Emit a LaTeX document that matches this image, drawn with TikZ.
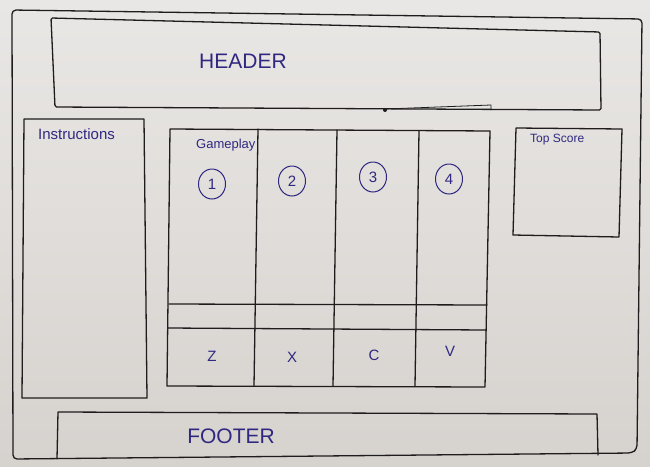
\documentclass[tikz,border=0pt]{standalone}
\usepackage{fontspec}
\usetikzlibrary{shapes.geometric}
\setmainfont{Liberation Sans}
\definecolor{inkblue}{RGB}{48,40,128}
\definecolor{pencil}{RGB}{30,28,28}
\definecolor{papertop}{RGB}{233,231,229}
\definecolor{paperbot}{RGB}{214,210,206}
\begin{document}
\begin{tikzpicture}[x=1pt,y=-1pt,
  pen/.style={draw=pencil, line width=1.3pt, line join=round, line cap=round},
  ink/.style={text=inkblue, inner sep=0pt, font=\fontsize{#1}{#1}\selectfont},
  badge/.style={draw=inkblue, line width=1pt, ellipse, minimum width=27pt, minimum height=30pt,
    inner sep=0pt, text=inkblue, font=\fontsize{15}{15}\selectfont}]
  % sheet of paper
  \shade[top color=papertop, bottom color=paperbot] (0,0) rectangle (650,466);
  \useasboundingbox (0,0) rectangle (650,466);

  % page frame
  \draw[pen, rounded corners=4pt] (13,459) -- (12,10) -- (642,19) -- (637,449) -- (632,453) -- cycle;

  % header bar
  \draw[pen, rounded corners=1.5pt] (51,18) -- (600,32) -- (601,110) -- (55,107) -- cycle;
  \draw[pen, line width=0.8pt] (385,109) -- (491,105) -- (491,110);
  \fill[pencil] (385,110) circle (2pt);
  \node[ink=21] (header) at (243,61) {HEADER};

  % instructions column
  \draw[pen] (24,119) -- (144,119) -- (147,398) -- (22,398) -- cycle;
  \node[ink=15, anchor=west] (instr) at (38,134) {Instructions};

  % gameplay grid
  \draw[pen] (170,129) -- (490,131) -- (485,387) -- (167,386) -- cycle;
  \draw[pen] (258,129) -- (254,386);
  \draw[pen] (337,130) -- (333,386);
  \draw[pen] (419,131) -- (415,386);
  \draw[pen] (169,304) -- (487,305);
  \draw[pen] (168,328) -- (486,330);
  \node[ink=13, anchor=west] (gameplay) at (196,145) {Gameplay};

  \node[badge] (lane1) at (212,184) {1};
  \node[badge] (lane2) at (292,181) {2};
  \node[badge] (lane3) at (373,177) {3};
  \node[badge] (lane4) at (449,179) {4};

  \node[ink=15] (key1) at (212,356) {Z};
  \node[ink=15] (key2) at (292,357) {X};
  \node[ink=15] (key3) at (374,355) {C};
  \node[ink=15] (key4) at (450,351) {V};

  % top score panel
  \draw[pen] (516,128) -- (622,129) -- (619,237) -- (513,235) -- cycle;
  \node[ink=12, anchor=west] (topscore) at (530,140) {Top Score};

  % footer bar
  \draw[pen] (57,459) -- (58,412) -- (597,414) -- (598,455);
  \node[ink=21] (footer) at (231,436) {FOOTER};
\end{tikzpicture}
\end{document}
